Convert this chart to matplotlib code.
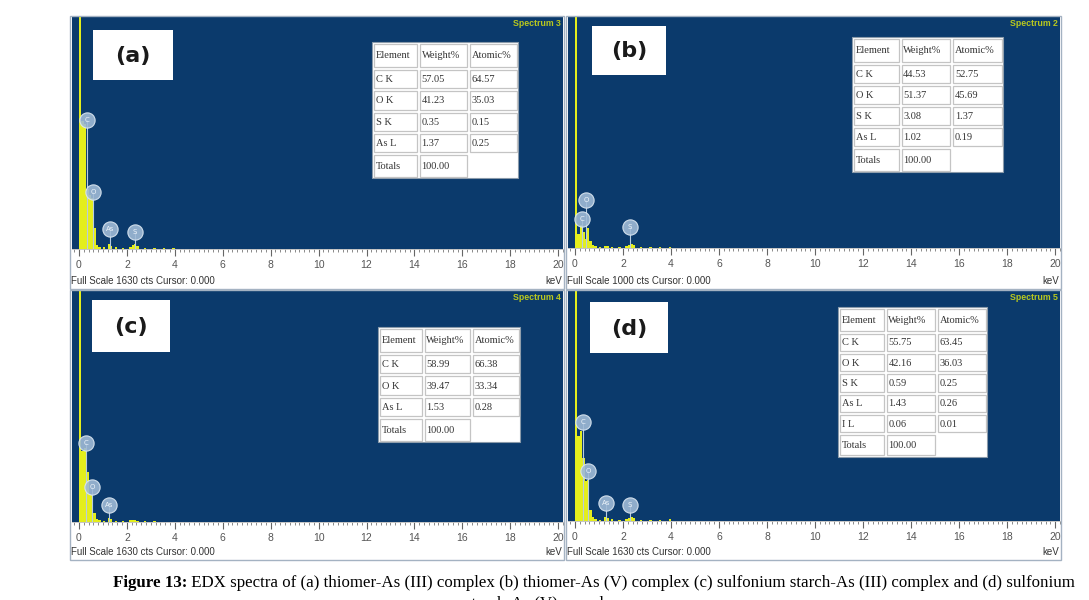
import matplotlib.pyplot as plt
from matplotlib.patches import Rectangle
from matplotlib.ticker import MultipleLocator

W, H = 1089, 600

# ---- data ----
panel_names = ["(a)", "(b)", "(c)", "(d)"]
spectrum_names = ["Spectrum 3", "Spectrum 2", "Spectrum 4", "Spectrum 5"]
full_scale = [1630, 1000, 1630, 1630]

channel_keV = [0.05, 0.15, 0.25, 0.35, 0.45, 0.55, 0.65, 0.75, 0.85, 1.05, 1.25,
               1.35, 1.55, 1.85, 2.15, 2.25, 2.35, 2.45, 2.75, 3.15, 3.55, 3.95]
counts_a = [2400, 900, 880, 420, 380, 360, 150, 30, 15, 12, 35,
            20, 12, 10, 14, 25, 35, 22, 10, 6, 5, 4]
counts_b = [1500, 60, 100, 70, 40, 85, 30, 12, 8, 6, 10,
            8, 6, 6, 10, 14, 18, 12, 6, 4, 3, 3]
counts_c = [2400, 500, 520, 350, 200, 190, 60, 20, 12, 10, 25,
            18, 10, 8, 12, 14, 12, 8, 6, 4, 3, 3]
counts_d = [2400, 600, 640, 450, 280, 290, 80, 25, 12, 10, 30,
            20, 12, 10, 14, 22, 30, 18, 8, 6, 8, 12]

label_el_a, label_keV_a, label_cts_a = ["C", "O", "As", "S"], [0.33, 0.58, 1.29, 2.33], [905, 400, 140, 120]
label_el_b, label_keV_b, label_cts_b = ["C", "O", "S"], [0.29, 0.46, 2.29], [125, 207, 90]
label_el_c, label_keV_c, label_cts_c = ["C", "O", "As"], [0.29, 0.54, 1.25], [557, 247, 120]
label_el_d, label_keV_d, label_cts_d = ["C", "O", "As", "S"], [0.33, 0.54, 1.29, 2.29], [705, 352, 127, 113]

table_header = ["Element", "Weight%", "Atomic%"]
table_a = [["C K", "57.05", "64.57"], ["O K", "41.23", "35.03"],
           ["S K", "0.35", "0.15"], ["As L", "1.37", "0.25"]]
table_b = [["C K", "44.53", "52.75"], ["O K", "51.37", "45.69"],
           ["S K", "3.08", "1.37"], ["As L", "1.02", "0.19"]]
table_c = [["C K", "58.99", "66.38"], ["O K", "39.47", "33.34"],
           ["As L", "1.53", "0.28"]]
table_d = [["C K", "55.75", "63.45"], ["O K", "42.16", "36.03"],
           ["S K", "0.59", "0.25"], ["As L", "1.43", "0.26"], ["I L", "0.06", "0.01"]]
totals = "100.00"

caption_bold = "Figure 13:"
caption_rest = ("EDX spectra of (a) thiomer-As (III) complex (b) thiomer-As (V) complex "
                "(c) sulfonium starch-As (III) complex and (d) sulfonium")
caption_line2 = "starch-As (V) complex."

# ---- layout (pixels) ----
blue = "#0b3a6c"
yellow = "#e4ee1c"
panel_box = [(72, 17, 563, 249), (568, 17, 1060, 248), (72, 291, 563, 522), (568, 291, 1060, 521)]
frame_box = [(70, 16, 564, 289), (566, 16, 1061, 289), (70, 290, 564, 560), (566, 290, 1061, 560)]
name_box = [(93, 30, 173, 80), (592, 26, 666, 75), (92, 300, 170, 352), (590, 302, 668, 353)]
table_box = [(372, 42, 518, 178), (852, 37, 1003, 172), (378, 327, 520, 442), (838, 307, 987, 457)]

counts_all = [counts_a, counts_b, counts_c, counts_d]
labels_all = [(label_el_a, label_keV_a, label_cts_a), (label_el_b, label_keV_b, label_cts_b),
              (label_el_c, label_keV_c, label_cts_c), (label_el_d, label_keV_d, label_cts_d)]
tables_all = [table_a, table_b, table_c, table_d]


def px_rect(x0, y0, x1, y1):
    return [x0 / W, 1 - y1 / H, (x1 - x0) / W, (y1 - y0) / H]


def draw_table(ax, box, rows):
    x0, y0, x1, y1 = box
    w, h = x1 - x0, y1 - y0
    u = h / (1.25 + len(rows) + 1.15)
    col_w = [w * 0.315, w * 0.343, w * 0.342]
    ax.add_patch(Rectangle((x0, y0), w, h, fc="white", ec="#8a9aaa", lw=0.8))
    heights = [1.25 * u] + [u] * len(rows) + [1.15 * u]
    texts = [table_header] + rows + [["Totals", totals, ""]]
    y = y0
    for hh, row in zip(heights, texts):
        x = x0
        for cw, t in zip(col_w, row):
            if t != "":
                ax.add_patch(Rectangle((x + 2, y + 1.5), cw - 3, hh - 3, fc="none",
                                       ec="#c4c4c4", lw=0.9))
                ax.text(x + 3.5, y + hh / 2 + 0.5, t, fontsize=7.5, family="Liberation Serif",
                        color="#333333", ha="left", va="center")
            x += cw
        y += hh


fig = plt.figure(figsize=(W / 100, H / 100), dpi=100)

for i in range(4):
    ax = fig.add_axes(px_rect(*panel_box[i]))
    ax.set_facecolor(blue)
    ax.bar(channel_keV, counts_all[i], width=0.1, color=yellow, edgecolor="none")
    els, kev, cts = labels_all[i]
    for el, e, c in zip(els, kev, cts):
        ax.vlines(e, 0, c, color="#b8cce0", lw=0.8, zorder=3)
        ax.plot(e, c, "o", ms=11, mfc="#9fbad6", mec="#dde8f2", mew=0.8, alpha=0.9, zorder=4)
        ax.text(e, c, el, fontsize=5, color="#eef4fa", ha="center", va="center", zorder=5)
    ax.set_xlim(-0.29, 20.2)
    ax.set_ylim(0, full_scale[i])
    ax.set_yticks([])
    ax.xaxis.set_major_locator(MultipleLocator(2))
    ax.xaxis.set_minor_locator(MultipleLocator(0.2))
    ax.tick_params(axis="x", which="major", direction="out", length=5, width=0.8,
                   color="#666666", labelsize=7.5, labelcolor="#555555", pad=3)
    ax.tick_params(axis="x", which="minor", direction="out", length=2.5, width=0.6,
                   color="#777777")
    for lab in ax.get_xticklabels():
        lab.set_family("Liberation Sans")
    for s in ["top", "left", "right"]:
        ax.spines[s].set_visible(False)
    ax.spines["bottom"].set_color("#bbbbbb")
    ax.spines["bottom"].set_linewidth(0.6)

ov = fig.add_axes([0, 0, 1, 1], zorder=10)
ov.set_xlim(0, W)
ov.set_ylim(H, 0)
ov.axis("off")

for i in range(4):
    fx0, fy0, fx1, fy1 = frame_box[i]
    ov.add_patch(Rectangle((fx0, fy0), fx1 - fx0, fy1 - fy0, fc="none", ec="#a4b2c2", lw=1))
    bx0, by0, bx1, by1 = name_box[i]
    ov.add_patch(Rectangle((bx0, by0), bx1 - bx0, by1 - by0, fc="white", ec="none"))
    ov.text((bx0 + bx1) / 2, (by0 + by1) / 2 + 1, panel_names[i], fontsize=16, weight="bold",
            family="DejaVu Sans", color="#1a1a1a", ha="center", va="center")
    px0, py0, px1, py1 = panel_box[i]
    ov.text(px1 - 2, py0 + 7, spectrum_names[i], fontsize=6.3, weight="bold",
            family="Liberation Sans", color="#b9c81e", ha="right", va="center")
    ov.text(fx0 + 1, fy1 - 8, "Full Scale %d cts Cursor: 0.000" % full_scale[i], fontsize=7,
            family="Liberation Sans", color="#333333", ha="left", va="center")
    ov.text(fx1 - 2, fy1 - 8, "keV", fontsize=7, family="Liberation Sans",
            color="#333333", ha="right", va="center")
    draw_table(ov, table_box[i], tables_all[i])

t1 = ov.text(113, 583, caption_bold, fontsize=12.2, weight="bold", family="Liberation Serif",
             color="black", ha="left", va="center")
ov.annotate(" " + caption_rest, xy=(1, 0), xycoords=t1, fontsize=12.2, family="Liberation Serif",
            color="black", ha="left", va="bottom")
ov.text(545, 596, caption_line2, fontsize=12.2, family="Liberation Serif", color="black",
        ha="center", va="top")

fig.savefig("out.png", dpi=100)
